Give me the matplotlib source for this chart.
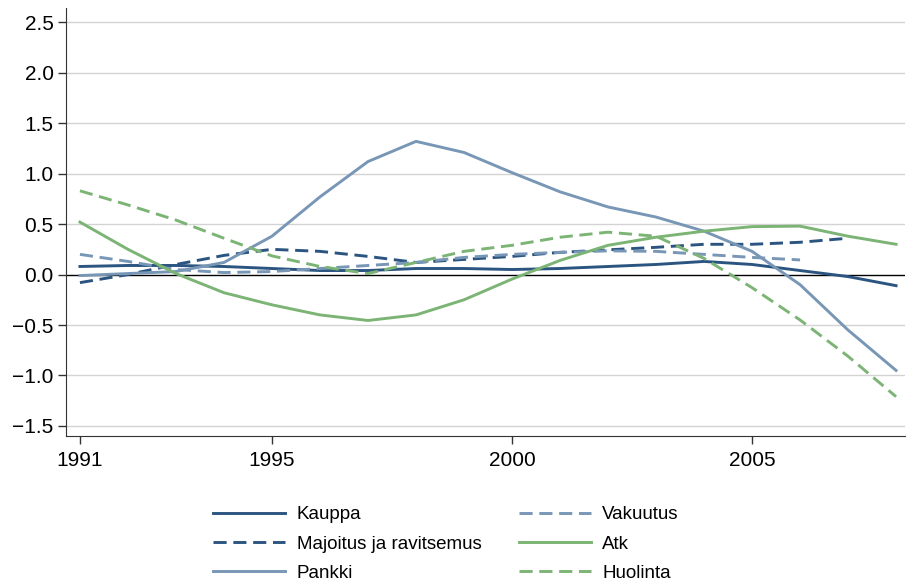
import matplotlib
matplotlib.use("Agg")
import matplotlib.pyplot as plt

plt.rcParams['font.family'] = ['Liberation Sans', 'DejaVu Sans']

years = list(range(1991, 2009))

kauppa = [0.08, 0.09, 0.09, 0.08, 0.06, 0.04, 0.04, 0.06, 0.06, 0.05,
          0.06, 0.08, 0.10, 0.13, 0.10, 0.04, -0.02, -0.11]
majoitus = [-0.08, 0.00, 0.10, 0.19, 0.25, 0.23, 0.18, 0.12, 0.15, 0.18,
            0.22, 0.245, 0.27, 0.30, 0.30, 0.32, 0.36]
pankki = [-0.01, 0.01, 0.03, 0.12, 0.38, 0.77, 1.12, 1.32, 1.21, 1.01,
          0.82, 0.67, 0.57, 0.43, 0.23, -0.10, -0.55, -0.95]
vakuutus = [0.20, 0.13, 0.05, 0.02, 0.03, 0.06, 0.09, 0.12, 0.17, 0.20,
            0.22, 0.235, 0.23, 0.20, 0.17, 0.145]
atk = [0.52, 0.25, 0.01, -0.18, -0.30, -0.40, -0.455, -0.40, -0.25, -0.045,
       0.14, 0.29, 0.37, 0.43, 0.475, 0.48, 0.38, 0.30]
huolinta = [0.83, 0.69, 0.54, 0.36, 0.185, 0.08, 0.01, 0.12, 0.23, 0.29,
            0.37, 0.42, 0.38, 0.16, -0.13, -0.45, -0.81, -1.21]

dark = '#2b5580'
mid = '#7896b5'
green = '#7bb474'
dash = (4.5, 2.3)

fig = plt.figure(figsize=(9.07, 5.85), dpi=100)
ax = fig.add_axes([0.0728, 0.2547, 0.9252, 0.7313])

lw = 2.1
series = [
    ("Kauppa", kauppa, dark, '-'),
    ("Majoitus ja ravitsemus", majoitus, dark, '--'),
    ("Pankki", pankki, mid, '-'),
    ("Vakuutus", vakuutus, mid, '--'),
    ("Atk", atk, green, '-'),
    ("Huolinta", huolinta, green, '--'),
]
handles = {}
for name, vals, col, ls in series:
    if ls == '--':
        h, = ax.plot(years[:len(vals)], vals, color=col, lw=lw, dashes=dash, label=name)
    else:
        h, = ax.plot(years[:len(vals)], vals, color=col, lw=lw, label=name)
    handles[name] = h

ax.axhline(0, color='black', lw=1.0, zorder=1)
yt = [-1.5, -1.0, -0.5, 0.0, 0.5, 1.0, 1.5, 2.0, 2.5]
for v in yt:
    if v != 0:
        ax.axhline(v, color='#d3d3d3', lw=1.0, zorder=0)

ax.set_xlim(1990.71, 2008.19)
ax.set_ylim(-1.6, 2.64)
ax.set_yticks(yt)
ax.set_yticklabels(['\u22121.5', '\u22121.0', '\u22120.5', '0.0', '0.5', '1.0', '1.5', '2.0', '2.5'])
ax.set_xticks([1991, 1995, 2000, 2005])
ax.tick_params(labelsize=15, length=6, width=1, color='#333333')
ax.tick_params(axis='x', pad=5)
ax.tick_params(axis='y', pad=3)
for s in ['top', 'right']:
    ax.spines[s].set_visible(False)
for s in ['left', 'bottom']:
    ax.spines[s].set_color('#333333')

order = ["Kauppa", "Majoitus ja ravitsemus", "Pankki", "Vakuutus", "Atk", "Huolinta"]
fig.legend([handles[n] for n in order], order, loc='center',
           bbox_to_anchor=(446 / 907, 1 - 544 / 585), ncol=2, frameon=False,
           fontsize=13.5, handlelength=3.85, handletextpad=0.6,
           labelspacing=0.65, columnspacing=2.0)

fig.savefig("out.png", dpi=100)
